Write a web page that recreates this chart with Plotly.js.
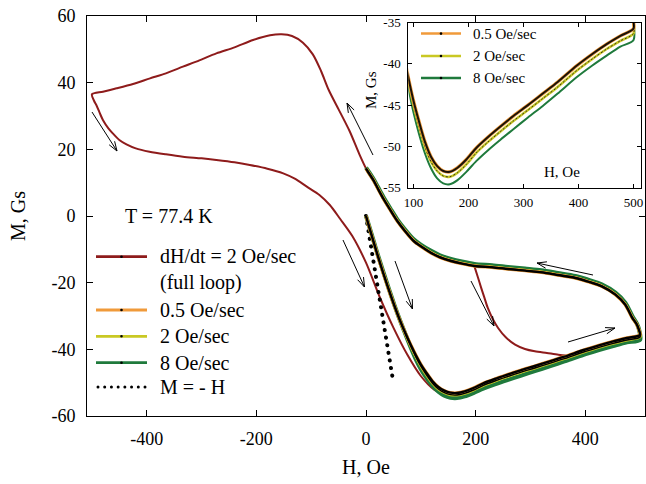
<!DOCTYPE html>
<html>
<head>
<meta charset="utf-8">
<script src="https://cdn.plot.ly/plotly-3.0.1.min.js"></script>
<style>
html,body{margin:0;padding:0;background:#fff}
#chart{width:646px;height:484px}
.tracemh .js-line{stroke-linecap:round}
</style>
</head>
<body>
<div id="chart"></div>
<script>
// ---------- DATA ----------
// Full hysteresis loop, dH/dt = 2 Oe/sec (increasing branch from -500, then decreasing branch back)
const loopH = [-500,-496,-492,-486,-480,-470,-462,-450,-437,-420,-395,-365,-334,-300,-273,-240,-212,-180,-151,-130,-108,-85,-66,-47,-25,0,25,50,75,100,125,150,170,190,214,258,308,362,397,451,500,
               498,494,486,473,455,430,405,382,350,320,290,259,230,198,175,155,135,118,100,87,72,57,45,32,22,14,5,0,-12,-30,-50,-68,-82,-97,-115,-135,-154,-175,-206,-240,-273,-304,-334,-365,-394,-425,-455,-480,-500];
const loopM = [36.5,34.5,33.3,31.0,28.8,26.3,24.8,22.8,21.5,20.3,19.3,18.5,17.8,17.3,16.8,16.1,15.3,14.2,12.8,11.2,8.8,6.3,3.3,-0.9,-6.0,-14.0,-24.3,-33.5,-41.5,-48.0,-52.2,-53.9,-54.0,-53.2,-50.4,-47.9,-45.3,-42.5,-40.4,-37.8,-35.9,
               -34.2,-32.5,-30.6,-26.5,-23.5,-21.0,-19.6,-18.5,-17.6,-16.8,-16.3,-15.8,-15.3,-14.9,-14.2,-13.4,-12.3,-10.9,-9.0,-7.4,-4.6,-1.4,1.7,5.2,8.2,10.7,13.0,14.3,18.5,25.5,32.0,37.8,43.5,48.5,52.0,54.0,54.5,54.2,52.8,50.6,48.8,46.7,44.8,42.8,41.3,39.6,38.3,37.3,36.5];
// Minor branch of the full-loop run
const minorH = [198,204,210,216,222,231,241,255,272,290,308,330,351,370];
const minorM = [-15.2,-18.3,-21.5,-24.5,-27.5,-30.8,-33.6,-36.4,-38.6,-39.9,-40.6,-41.1,-41.6,-41.9];

// Rate runs: field ramp up from 0 to 500 Oe, then down to 0
const rampUpH   = [0,6,13,22,32,42,52,62,72,82,91,100,110,121,132,143,154,166,180,196,214,235,258,282,308,335,362,397,425,451,476,500];
const m05Up     = [0,-3.4,-7.3,-12.2,-17.4,-22.3,-27.0,-31.3,-35.2,-38.8,-41.8,-44.5,-47.0,-49.5,-51.3,-52.4,-53.0,-53.1,-52.6,-51.6,-50.2,-48.9,-47.6,-46.3,-45.0,-43.6,-42.2,-40.2,-38.8,-37.6,-36.6,-35.7];
const m2Up      = [0,-3.4,-7.3,-12.2,-17.4,-22.3,-27.0,-31.4,-35.4,-39.1,-42.2,-45.0,-47.6,-50.1,-51.9,-53.0,-53.6,-53.7,-53.2,-52.2,-50.8,-49.5,-48.2,-46.9,-45.6,-44.2,-42.8,-40.8,-39.4,-38.2,-37.2,-36.3];
const m8Up      = [0,-3.2,-7.0,-11.9,-17.0,-22.0,-26.8,-31.3,-35.5,-39.6,-43.0,-45.9,-48.5,-50.9,-52.7,-53.9,-54.5,-54.6,-54.1,-53.1,-51.8,-50.5,-49.2,-47.9,-46.5,-45.1,-43.6,-41.6,-40.2,-39.0,-37.9,-37.1];
const rampDownH = [498,494,486,473,455,430,405,382,350,320,290,259,230,198,175,155,135,118,100,87,72,57,45,32,22,14,5,0];
const m05Down   = [-34.2,-32.5,-30.6,-26.6,-23.6,-21.1,-19.7,-18.6,-17.7,-16.9,-16.4,-15.9,-15.4,-15.0,-14.3,-13.5,-12.4,-11.0,-9.1,-7.5,-4.7,-1.5,1.6,5.1,8.1,10.6,12.9,14.2];
const m2Down    = [-34.2,-32.5,-30.5,-26.5,-23.5,-21.0,-19.6,-18.5,-17.6,-16.8,-16.3,-15.8,-15.3,-14.9,-14.2,-13.4,-12.3,-10.9,-9.0,-7.4,-4.6,-1.4,1.7,5.2,8.2,10.7,13.0,14.3];
const m8Down    = [-34.0,-32.2,-30.1,-26.0,-23.0,-20.5,-19.1,-18.0,-17.1,-16.3,-15.8,-15.3,-14.8,-14.4,-13.7,-12.9,-11.8,-10.4,-8.6,-7.0,-4.2,-1.0,2.1,5.6,8.6,11.0,13.3,14.5];

// M = -H reference line
const lineH = [0, 50];
const lineM = [0, -50];

// Tick labels
const xTicks = [-400,-200,0,200,400];
const xTickText = ['-400','-200','0','200','400'];
const yTicks = [-60,-40,-20,0,20,40,60];
const yTickText = ['-60','-40','-20','0','20','40','60'];
const x2Ticks = [100,200,300,400,500];
const x2TickText = ['100','200','300','400','500'];
const y2Ticks = [-55,-50,-45,-40,-35];
const y2TickText = ['-55','-50','-45','-40','-35'];

// Legend entries
const mainLegendNames = ['dH/dt = 2 Oe/sec<br>(full loop)','0.5 Oe/sec','2 Oe/sec','8 Oe/sec','M = - H'];
const insetLegendNames = ['0.5 Oe/sec','2 Oe/sec','8 Oe/sec'];

// ---------- STYLE ----------
const C_RED = '#8e1b1b', C_OR = '#f09a3a', C_YE = '#c9c823', C_GR = '#1f7a3c';
const FONT = 'Liberation Serif';

const h05 = rampUpH.concat(rampDownH), v05 = m05Up.concat(m05Down);
const h2 = rampUpH.concat(rampDownH),  v2  = m2Up.concat(m2Down);
const h8 = rampUpH.concat(rampDownH),  v8  = m8Up.concat(m8Down);

function tr(x, y, color, width, axes, extra) {
  return Object.assign({x: x, y: y, type: 'scatter', mode: 'lines',
    line: {color: color, width: width, shape: 'spline', smoothing: 0.8},
    xaxis: axes[0], yaxis: axes[1], hoverinfo: 'skip', showlegend: false}, extra || {});
}
const A1 = ['x','y'], A2 = ['x2','y2'];
const data = [
  tr(loopH, loopM, C_RED, 2, A1),
  tr(minorH, minorM, C_RED, 2, A1),
  tr(lineH, lineM, 'black', 4, A1, {uid: 'mh', line: {color: 'black', width: 4, dash: '0.1px,7.6px'}}),
  tr(h8, v8, C_GR, 4.2, A1),
  tr(h2, v2, C_YE, 3, A1),
  tr(h05, v05, C_OR, 3.4, A1),
  tr(h2, v2, 'black', 1.4, A1),
  tr(h05, v05, 'black', 2.4, A1),
  // inset
  tr(h8, v8, C_GR, 2, A2),
  tr(h2, v2, C_YE, 2.5, A2),
  tr(h2, v2, '#222', 0.9, A2, {line: {color: '#222', width: 0.9, dash: '2px,2px', shape: 'spline', smoothing: 0.8}}),
  tr(h05, v05, C_OR, 3.4, A2),
  tr(h05, v05, '#1a1208', 2.0, A2)
];

// ---------- LAYOUT HELPERS (pixel -> paper) ----------
const ML = 87, MR = 1, MT = 16, MB = 68, PW = 646 - ML - MR, PH = 484 - MT - MB;
const px = x => (x - ML) / PW;
const py = y => (MT + PH - y) / PH;

const shapes = [];
const annotations = [];

function arrow(x0, y0, x1, y1) {
  const ang = Math.atan2(y1 - y0, x1 - x0), hl = 10, ha = 0.33;
  const a1 = ang + Math.PI - ha, a2 = ang + Math.PI + ha;
  const hx1 = x1 + hl * Math.cos(a1), hy1 = y1 + hl * Math.sin(a1);
  const hx2 = x1 + hl * Math.cos(a2), hy2 = y1 + hl * Math.sin(a2);
  const P = (x, y) => px(x).toFixed(5) + ',' + py(y).toFixed(5);
  shapes.push({type: 'path', xref: 'paper', yref: 'paper',
    path: 'M' + P(x0, y0) + 'L' + P(x1, y1) + 'M' + P(hx1, hy1) + 'L' + P(x1, y1) + 'L' + P(hx2, hy2),
    line: {color: 'black', width: 1}});
}
arrow(92, 112, 117, 151);
arrow(373, 155, 347, 103);
arrow(343, 240, 364.5, 287);
arrow(395, 261, 412.5, 309);
arrow(471, 281, 494, 326);
arrow(593, 275, 537, 263);
arrow(568, 342, 615, 328);

function dot(cx, cy, r) {
  shapes.push({type: 'circle', xref: 'paper', yref: 'paper', x0: px(cx - r), x1: px(cx + r), y0: py(cy + r), y1: py(cy - r),
    fillcolor: 'black', line: {width: 0}});
}
function legendRow(x0, x1, y, color, width, dotted) {
  if (dotted) {
    for (let k = 0; k < 8; k++) dot(x0 + 2 + k * (x1 - x0 - 4) / 7, y, 1.5);
    return;
  }
  shapes.push({type: 'line', xref: 'paper', yref: 'paper', x0: px(x0), x1: px(x1), y0: py(y), y1: py(y),
    line: {color: color, width: width}});
  dot((x0 + x1) / 2, y, 1.3);
}
function label(x, y, text, size, extra) {
  annotations.push(Object.assign({xref: 'paper', yref: 'paper', x: px(x), y: py(y), text: text, showarrow: false,
    xanchor: 'left', yanchor: 'middle', align: 'left', font: {family: FONT, size: size, color: 'black'}}, extra || {}));
}

// main legend
const mainColors = [C_RED, C_OR, C_YE, C_GR, 'black'];
const mainRowsY = [256.7, 310, 336.3, 362.7, 387];
mainLegendNames.forEach((n, i) => {
  legendRow(96, 147, mainRowsY[i], mainColors[i], 2.8, i === 4);
  label(158, i === 0 ? (256.7 + 283) / 2 : mainRowsY[i], n, 20);
});
// inset legend
const insetColors = [C_OR, C_YE, C_GR];
const insetRowsY = [33.6, 56, 78];
insetLegendNames.forEach((n, i) => {
  legendRow(421, 461, insetRowsY[i], insetColors[i], 2.5, false);
  label(471, insetRowsY[i], n, 15);
});

label(169, 216, 'T = 77.4 K', 20, {xanchor: 'center', align: 'center'});
label(562, 172, 'H, Oe', 15, {xanchor: 'center', align: 'center'});
label(371, 90, 'M, Gs', 15, {xanchor: 'center', align: 'center', textangle: -90});

const axisCommon = {
  ticks: 'inside', tickcolor: 'black', tickwidth: 1, showline: true, linecolor: 'black', linewidth: 1,
  mirror: 'ticks', showgrid: false, zeroline: false, tickmode: 'array'
};

const layout = {
  width: 646, height: 484,
  margin: {l: ML, r: MR, t: MT, b: MB, pad: 0},
  paper_bgcolor: 'white', plot_bgcolor: 'white',
  showlegend: false,
  font: {family: FONT, color: 'black'},
  xaxis: Object.assign({}, axisCommon, {
    range: [-509, 509], tickvals: xTicks, ticktext: xTickText, ticklen: 6,
    tickfont: {family: FONT, size: 18, color: 'black'}, ticklabelstandoff: 6,
    title: {text: 'H, Oe', font: {family: FONT, size: 20, color: 'black'}, standoff: 12}
  }),
  yaxis: Object.assign({}, axisCommon, {
    range: [-60, 60], tickvals: yTicks, ticktext: yTickText, ticklen: 6,
    tickfont: {family: FONT, size: 18, color: 'black'}, ticklabelstandoff: 7,
    title: {text: 'M, Gs', font: {family: FONT, size: 20, color: 'black'}, standoff: 20}
  }),
  xaxis2: Object.assign({}, axisCommon, {
    anchor: 'y2', domain: [px(408.3), px(641)], range: [90.5, 513.5],
    tickvals: x2Ticks, ticktext: x2TickText, ticklen: 4,
    tickfont: {family: FONT, size: 13, color: 'black'}, ticklabelstandoff: 3
  }),
  yaxis2: Object.assign({}, axisCommon, {
    anchor: 'x2', domain: [py(187.5), py(22.7)], range: [-55, -35],
    tickvals: y2Ticks, ticktext: y2TickText, ticklen: 4,
    tickfont: {family: FONT, size: 13, color: 'black'}, ticklabelstandoff: 4
  }),
  shapes: shapes,
  annotations: annotations
};

Plotly.newPlot('chart', data, layout, {staticPlot: true, displayModeBar: false});
</script>
</body>
</html>
